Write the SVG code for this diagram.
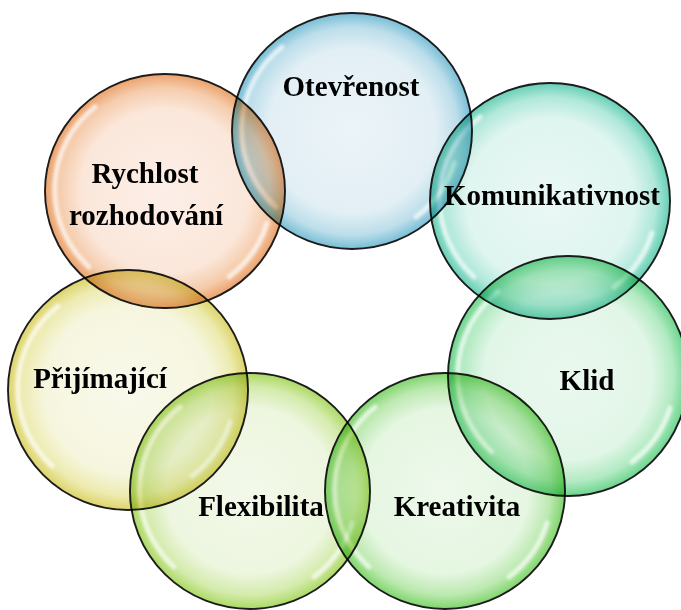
<svg xmlns="http://www.w3.org/2000/svg" width="681" height="610" viewBox="0 0 681 610">
<style>
.node{mix-blend-mode:multiply}
.rim{stroke:#1c1c1c;stroke-width:1.9}
.hl{fill:none;stroke:#ffffff;stroke-width:5;stroke-linecap:round;opacity:0.7;filter:url(#blur)}
.lbl{font-family:"Liberation Serif","Times New Roman",serif;font-weight:bold;font-size:29px;fill:#000;text-anchor:middle}
</style>
<defs>
<filter id="blur" x="-20%" y="-20%" width="140%" height="140%"><feGaussianBlur stdDeviation="1.6"/></filter>
<radialGradient id="gBlue" cx="50%" cy="50%" r="50%">
<stop offset="0" stop-color="#ecf4f8"/><stop offset="0.7" stop-color="#e2eff5"/><stop offset="0.88" stop-color="#bcdeea"/><stop offset="1" stop-color="#78bed6"/>
</radialGradient>
<radialGradient id="gTeal" cx="50%" cy="50%" r="50%">
<stop offset="0" stop-color="#eaf8f5"/><stop offset="0.7" stop-color="#dff5ef"/><stop offset="0.88" stop-color="#b0e8da"/><stop offset="1" stop-color="#66cfb5"/>
</radialGradient>
<radialGradient id="gGreen" cx="50%" cy="50%" r="50%">
<stop offset="0" stop-color="#ebf8ef"/><stop offset="0.7" stop-color="#e1f6e7"/><stop offset="0.88" stop-color="#b2eac2"/><stop offset="1" stop-color="#6cd58e"/>
</radialGradient>
<radialGradient id="gGreen2" cx="50%" cy="50%" r="50%">
<stop offset="0" stop-color="#eef9ec"/><stop offset="0.7" stop-color="#e5f6e1"/><stop offset="0.88" stop-color="#bce9b0"/><stop offset="1" stop-color="#7fd56c"/>
</radialGradient>
<radialGradient id="gLime" cx="50%" cy="50%" r="50%">
<stop offset="0" stop-color="#f3f9ea"/><stop offset="0.7" stop-color="#edf6df"/><stop offset="0.88" stop-color="#d4ebac"/><stop offset="1" stop-color="#acd964"/>
</radialGradient>
<radialGradient id="gYellow" cx="50%" cy="50%" r="50%">
<stop offset="0" stop-color="#f9f9ec"/><stop offset="0.7" stop-color="#f6f6df"/><stop offset="0.88" stop-color="#edebb0"/><stop offset="1" stop-color="#ddd46a"/>
</radialGradient>
<radialGradient id="gOrange" cx="50%" cy="50%" r="50%">
<stop offset="0" stop-color="#fcefe8"/><stop offset="0.7" stop-color="#fbe7da"/><stop offset="0.88" stop-color="#f5ccac"/><stop offset="1" stop-color="#eca26c"/>
</radialGradient>
<g id="shine">
<path class="hl" d="M-70,-84 A108 106 0 0 0 -76,76"/>
<path class="hl" d="M102,32 A108 106 0 0 1 64,86"/>
</g>
</defs>
<rect width="681" height="610" fill="#ffffff"/>
<g id="connectors"></g>
<g id="n-otevrenost" class="node" transform="translate(352,131)">
<ellipse class="rim" rx="120" ry="118" fill="url(#gBlue)"/>
<use href="#shine"/>
</g>
<g id="n-komunikativnost" class="node" transform="translate(550,201)">
<ellipse class="rim" rx="120" ry="118" fill="url(#gTeal)"/>
<use href="#shine"/>
</g>
<g id="n-klid" class="node" transform="translate(568,376)">
<ellipse class="rim" rx="120" ry="120" fill="url(#gGreen)"/>
<use href="#shine"/>
</g>
<g id="n-kreativita" class="node" transform="translate(445,491)">
<ellipse class="rim" rx="120" ry="118" fill="url(#gGreen2)"/>
<use href="#shine"/>
</g>
<g id="n-flexibilita" class="node" transform="translate(250,491)">
<ellipse class="rim" rx="120" ry="118" fill="url(#gLime)"/>
<use href="#shine"/>
</g>
<g id="n-prijimajici" class="node" transform="translate(128,390)">
<ellipse class="rim" rx="120" ry="120" fill="url(#gYellow)"/>
<use href="#shine"/>
</g>
<g id="n-rychlost" class="node" transform="translate(165,191)">
<ellipse class="rim" rx="120" ry="117" fill="url(#gOrange)"/>
<use href="#shine"/>
</g>
<g id="labels">
<text class="lbl" x="351" y="96">Otevřenost</text>
<text class="lbl" x="552" y="205">Komunikativnost</text>
<text class="lbl" x="587" y="390">Klid</text>
<text class="lbl" x="457" y="516">Kreativita</text>
<text class="lbl" x="261" y="516">Flexibilita</text>
<text class="lbl" x="100" y="388">Přijímající</text>
<text class="lbl" x="145" y="183">Rychlost</text>
<text class="lbl" x="146" y="225">rozhodování</text>
</g>
</svg>
